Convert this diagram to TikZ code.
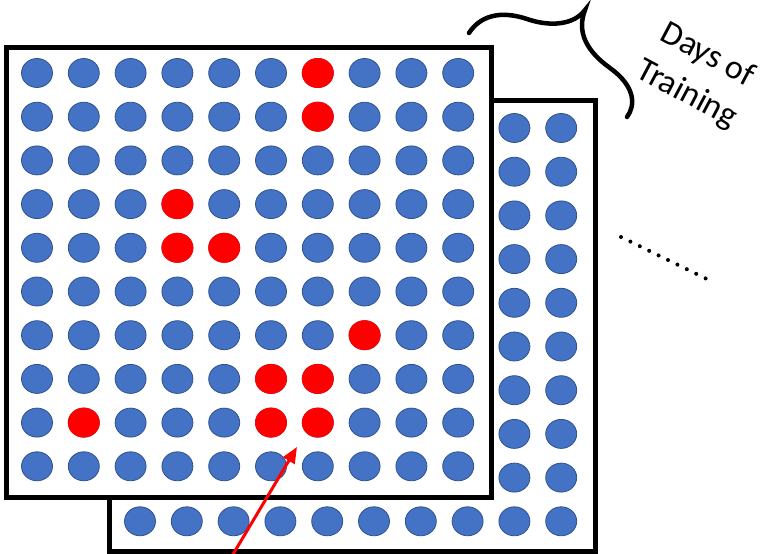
\documentclass[tikz,border=0pt]{standalone}
\usepackage{fontspec}
\setmainfont{Carlito}
\usetikzlibrary{arrows.meta}
\definecolor{dotblue}{HTML}{4472C4}
\definecolor{dotedge}{HTML}{2F528F}
\definecolor{dotred}{HTML}{FF0000}
\begin{document}
\begin{tikzpicture}[x=1pt,y=-1pt,
  panel/.style={draw=black,line width=5pt,fill=white},
  bluedot/.style={fill=dotblue,draw=dotedge,line width=0.8pt},
  reddot/.style={fill=dotred},
  bracestyle/.style={draw=black,line width=4.5pt,line cap=round},
  pointer/.style={draw=dotred,line width=3pt,-{Triangle[length=16pt,width=13pt]}}]
\useasboundingbox (0,0) rectangle (769,554);
% back panel
\draw[panel] (109,100) rectangle (595,551);
\foreach \c in {1,...,10} {
  \foreach \r in {1,...,10} {
    \path[bluedot] ({140+46.8*(\c-1)},{128+43.7*(\r-1)}) ellipse [x radius=15.5pt, y radius=14.5pt];
  }
}
% front panel
\draw[panel] (6,47.5) rectangle (491,497);
\foreach \c in {1,...,10} {
  \foreach \r in {1,...,10} {
    \path[bluedot] ({37+46.8*(\c-1)},{73+43.7*(\r-1)}) ellipse [x radius=15.5pt, y radius=14.5pt];
  }
}
\foreach \c/\r in {7/1,7/2,4/4,4/5,5/5,8/7,6/8,7/8,2/9,6/9,7/9} {
  \path[reddot] ({37+46.8*(\c-1)},{73+43.7*(\r-1)}) ellipse [x radius=16pt, y radius=15pt];
}
% brace
\draw[bracestyle] (469,33) .. controls (480,16) and (500,10) .. (527,19)
  .. controls (550,27) and (574,25) .. (585,10)
  .. controls (577,31) and (585,50) .. (610,68)
  .. controls (635,86) and (636,105) .. (627,117);
% label
\node[rotate=-28,align=center,inner sep=0pt,font=\fontsize{34}{44}\selectfont] (label) at (697,75) {Days of\\Training};
% continuation dots
\foreach \i in {0,...,9} {
  \fill[black] ({621+9.4*\i},{237+4.6*\i}) circle [radius=2pt];
}
% arrow
\coordinate (arrowtail) at (232,556);
\coordinate (arrowtip) at (297,447);
\draw[pointer] (arrowtail) -- (arrowtip);
\end{tikzpicture}
\end{document}
